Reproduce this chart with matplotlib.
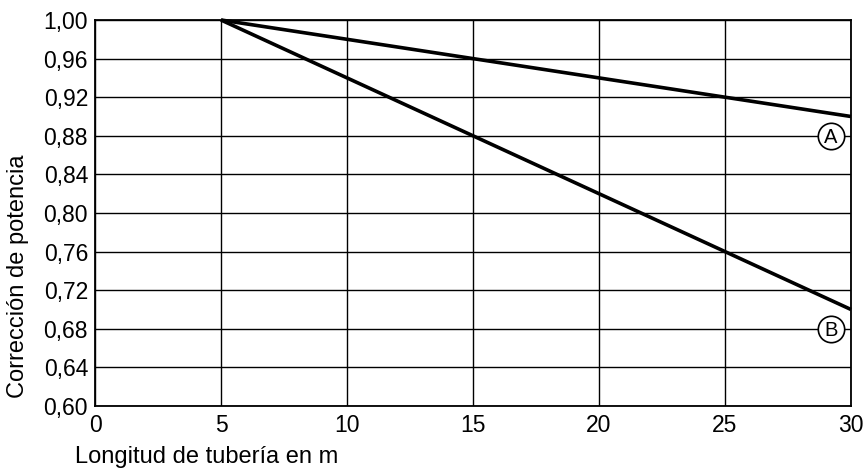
import numpy as np
import matplotlib.pyplot as plt

plt.rcParams['font.family'] = ['Liberation Sans', 'DejaVu Sans']

# datos
longitud = [5, 30]
curva_a = [1.00, 0.90]
curva_b = [1.00, 0.70]
etiquetas = ['A', 'B']
pos_x = [29.2, 29.2]
pos_y = [0.88, 0.68]
x_ticks = [0, 5, 10, 15, 20, 25, 30]
y_ticks = np.arange(0.60, 1.001, 0.04)

fig = plt.figure(figsize=(8.65, 4.72), dpi=100)
ax = fig.add_axes([95/865, 1 - 406/472, 756/865, 386/472])

ax.set_xlim(0, 30)
ax.set_ylim(0.60, 1.00)
ax.set_xticks(x_ticks)
ax.set_yticks(y_ticks)
ax.set_yticklabels([f'{v:.2f}'.replace('.', ',') for v in y_ticks])
ax.tick_params(length=0, labelsize=16.5, colors='black')
ax.tick_params(axis='x', pad=6)
ax.tick_params(axis='y', pad=5)
ax.grid(True, color='black', linewidth=1.0)
for s in ax.spines.values():
    s.set_linewidth(1.3)

ax.plot(longitud, curva_a, color='black', linewidth=2.6, solid_capstyle='butt', clip_on=False)
ax.plot(longitud, curva_b, color='black', linewidth=2.6, solid_capstyle='butt', clip_on=False)

# etiquetas en circulo
ax.plot(pos_x, pos_y, 'o', ms=19, mfc='white', mec='black', mew=1.2, zorder=3)
for txt, xx, yy in zip(etiquetas, pos_x, pos_y):
    ax.annotate(txt, (xx, yy), xytext=(0, -5.2), textcoords='offset points',
                ha='center', va='baseline', fontsize=14.5, zorder=4)

fig.text(18/865, 1 - 276/472, 'Corrección de potencia', rotation=90,
         ha='center', va='center', fontsize=17)
fig.text(75/865, 1 - 463/472, 'Longitud de tubería en m', ha='left', va='baseline', fontsize=17)

fig.savefig('out.png', dpi=100)
